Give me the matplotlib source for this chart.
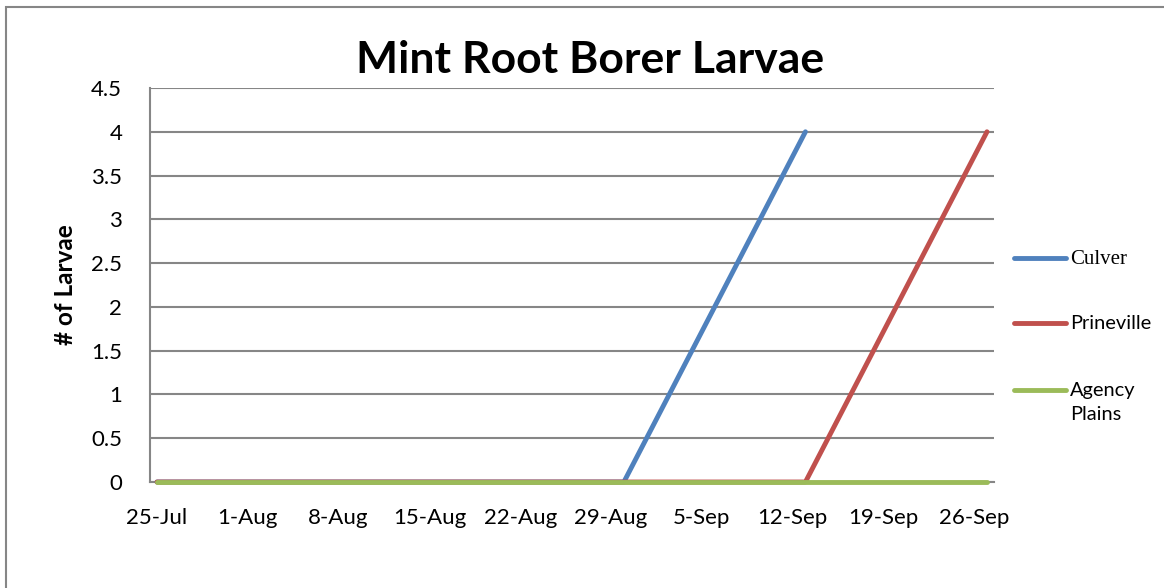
"""Mint root borer larvae counts, three sites.
"""

import matplotlib
matplotlib.use("Agg")
import matplotlib.pyplot as plt
from matplotlib.lines import Line2D
from matplotlib.patches import Rectangle
import pandas as pd

# Data
sample_dates = ["2012-07-25", "2012-08-02", "2012-08-16", "2012-08-30",
                "2012-09-13", "2012-09-27"]
culver = [0, 0, 0, 0, 4]
prineville = [0, 0, 0, 0, 0, 4]
agency_plains = [0, 0, 0, 0, 0, 0]

series_names = ["Culver", "Prineville", "Agency\nPlains"]
series_colors = ["#4F81BD", "#C0504D", "#9BBB59"]

tick_labels = ["25-Jul", "1-Aug", "8-Aug", "15-Aug", "22-Aug", "29-Aug",
               "5-Sep", "12-Sep", "19-Sep", "26-Sep"]
y_ticks = [0, 0.5, 1, 1.5, 2, 2.5, 3, 3.5, 4, 4.5]

FONT = "Lato"
GRID = "#868686"

dates = pd.to_datetime(sample_dates)
tick_dates = pd.to_datetime([lab + "-2012" for lab in tick_labels], format="%d-%b-%Y")

fig = plt.figure(figsize=(11.64, 5.88), dpi=100)
W, H = 1164, 588

# Outer chart frame (only left/top edges visible in the picture)
fig.add_artist(Rectangle((5.5 / W, -0.1), 1.2, 1.1 - 7.5 / H,
                         transform=fig.transFigure, fill=False,
                         edgecolor=GRID, linewidth=1.5))

ax = fig.add_axes([150 / W, 1 - 482 / H, (994 - 150) / W, (482 - 88) / H])

all_series = [dates[:len(culver)], culver], [dates, prineville], [dates, agency_plains]
for (d, vals), col in zip(all_series, series_colors):
    ax.plot(d, vals, color=col, linewidth=3.5, solid_capstyle="round",
            zorder=3, clip_on=False)

ax.set_xlim(dates[0] - pd.Timedelta(hours=13), dates[-1] + pd.Timedelta(hours=13))
ax.set_ylim(0, 4.5)
ax.set_yticks(y_ticks)
ax.set_yticklabels([f"{v:g}" for v in y_ticks])
ax.set_xticks(tick_dates)
ax.set_xticklabels(tick_labels)

ax.yaxis.grid(True, color=GRID, linewidth=1.5)
ax.set_axisbelow(True)
for side in ["top", "right"]:
    ax.spines[side].set_visible(False)
for side in ["left", "bottom"]:
    ax.spines[side].set_color(GRID)
    ax.spines[side].set_linewidth(1.5)

ax.tick_params(axis="both", length=0, labelsize=16)
ax.tick_params(axis="y", pad=20)
ax.tick_params(axis="x", pad=19)
for lab in ax.get_xticklabels() + ax.get_yticklabels():
    lab.set_family(FONT)

ax.set_ylabel("# of Larvae", family=FONT, fontweight="bold", fontsize=17.5,
              labelpad=10)

fig.text(590 / W, 1 - 60 / H, "Mint Root Borer Larvae", family=FONT,
         fontweight="bold", fontsize=32, ha="center", va="center")

# Legend on the right
legend_y = [258, 323, 390]
for name, col, y in zip(series_names, series_colors, legend_y):
    fig.add_artist(Line2D([1014 / W, 1066 / W], [1 - y / H, 1 - y / H],
                          transform=fig.transFigure, color=col,
                          linewidth=3.5, solid_capstyle="round"))
    if name == "Culver":
        fam, size = "Liberation Serif", 15
    else:
        fam, size = FONT, 14.4
    fig.text(1070 / W, 1 - (y - 8) / H, name, family=fam, fontsize=size,
             ha="left", va="top", linespacing=1.5)

fig.savefig("out.png", dpi=100)
